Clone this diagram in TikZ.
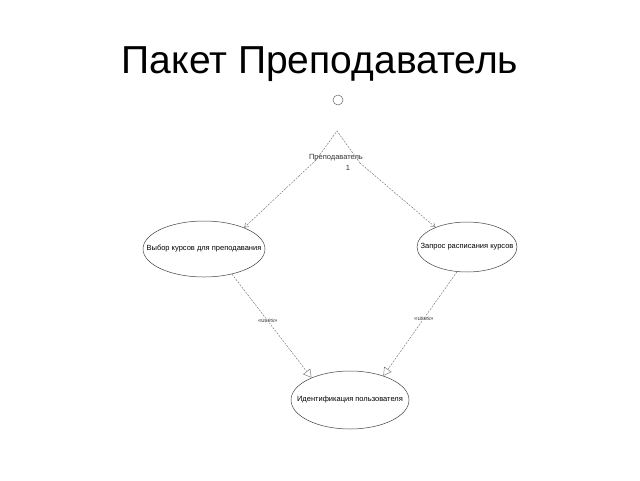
\documentclass[tikz,border=0pt]{standalone}
\usepackage{fontspec}
\setmainfont{Liberation Sans}
\usetikzlibrary{shapes.geometric,arrows.meta}
\begin{document}
\begin{tikzpicture}[x=1pt,y=-1pt,
  uc/.style={ellipse,draw=black!75,line width=0.5pt,inner sep=0pt},
  uctext/.style={font=\fontsize{7.5}{8}\selectfont,inner sep=0pt},
  conn/.style={draw=black!55,line width=0.45pt,dash pattern=on 2pt off 1.2pt},
  assoc/.style={conn,-{Straight Barb[length=4pt,width=5pt]}},
  incl/.style={conn,-{Triangle[open,length=8pt,width=9pt,fill=white]}},
  lbl/.style={font=\fontsize{6}{7}\selectfont,inner sep=1pt,text=black!80}]
\useasboundingbox (0,0) rectangle (640,480);
\node[anchor=base,font=\fontsize{39}{41}\selectfont] (title) at (320,73) {Пакет Преподаватель};
% actor
\node[circle,draw=black!60,line width=0.5pt,minimum size=10pt,inner sep=0pt] (head) at (338,100) {};
\coordinate (apex) at (337,131);
\coordinate (legl) at (316,160);
\coordinate (legr) at (360,163);
\node[lbl,font=\fontsize{7.5}{8}\selectfont] (actor) at (336,158) {Преподаватель};
\node[lbl,font=\fontsize{7.5}{8}\selectfont] (mult) at (348,168) {1};
% use cases
\node[uc,minimum width=122pt,minimum height=56pt] (uc1) at (204,249) {};
\node[uctext] (t1) at (uc1) {Выбор курсов для преподавания};
\node[uc,minimum width=100pt,minimum height=50pt] (uc2) at (467,247) {};
\node[uctext] (t2) at (uc2) {Запрос расписания курсов};
\node[uc,minimum width=118pt,minimum height=58pt] (uc3) at (350,400) {};
\node[uctext] (t3) at (uc3) {Идентификация пользователя};
% actor legs
\draw[conn] (legl) -- (apex) -- (legr);
% associations
\draw[assoc] (legl) -- (uc1.28);
\draw[assoc] (legr) -- (uc2.148);
% includes
\draw[incl] (uc1.-42) -- node[lbl,fill=white,pos=0.45] (u1) {«uses»} (uc3.150);
\draw[incl] (uc2.-112) -- node[lbl,fill=white,pos=0.45] (u2) {«uses»} (uc3.36);
\end{tikzpicture}
\end{document}
